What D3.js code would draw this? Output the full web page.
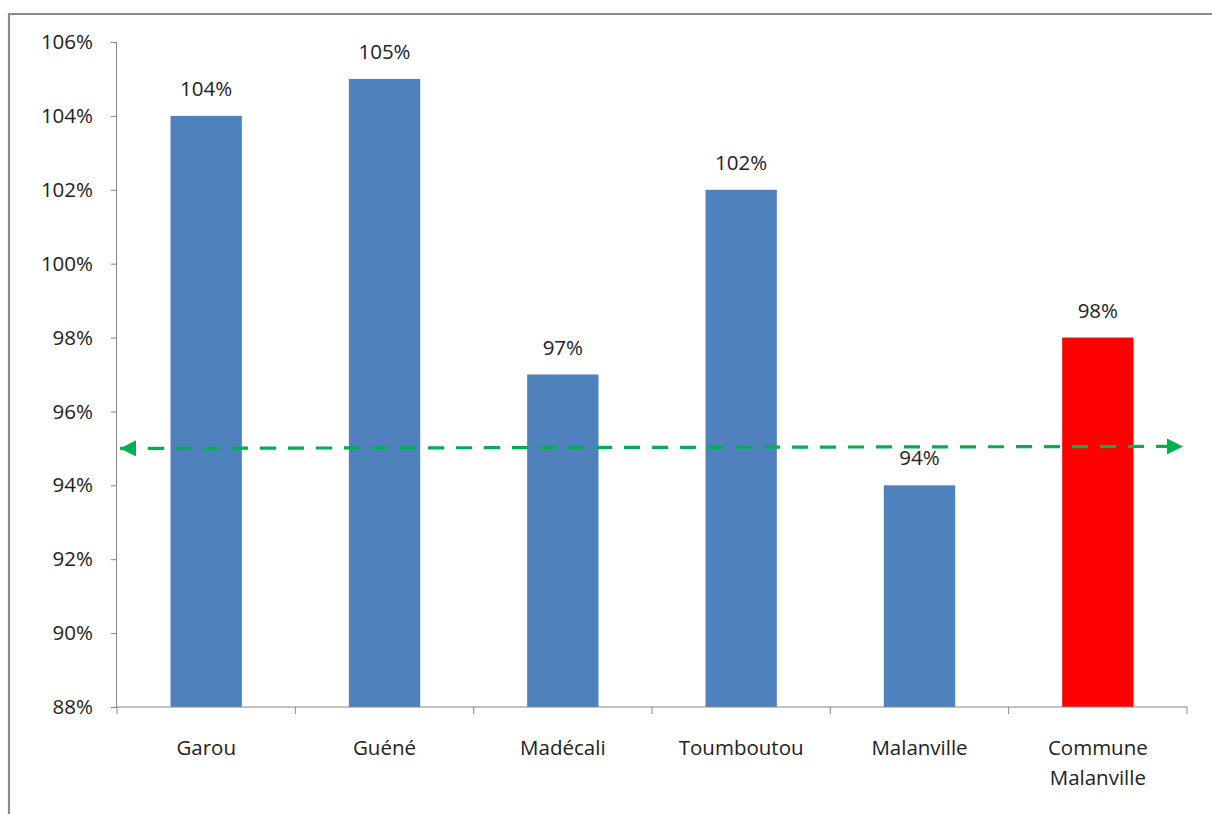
<!DOCTYPE html>
<html>
<head>
<meta charset="utf-8">
<script src="https://cdn.jsdelivr.net/npm/d3@7"></script>
<style>
  html, body { margin: 0; padding: 0; background: #fff; }
  svg { display: block; }
  text { font-family: "Open Sans", "Noto Sans", sans-serif; fill: #222; }
</style>
</head>
<body>
<svg id="chart" width="1212" height="814"></svg>
<script>
// Taux par arrondissement, commune en rouge
const categories = [["Garou"], ["Guéné"], ["Madécali"], ["Toumboutou"], ["Malanville"], ["Commune", "Malanville"]];
const values = [104, 105, 97, 102, 94, 98];
const barColors = ["#4F81BD", "#4F81BD", "#4F81BD", "#4F81BD", "#4F81BD", "#FF0000"];
const yTicks = [88, 90, 92, 94, 96, 98, 100, 102, 104, 106];
const targetLevel = [95];

const svg = d3.select("#chart");
const W = 1212, H = 814;
const m = { left: 117, right: 1187, top: 42, bottom: 707 };
const fontPx = "20.5px";

// Outer frame of the chart area
svg.append("path")
  .attr("d", `M9,${H + 2} V14 H${W + 2}`)
  .attr("fill", "none").attr("stroke", "#8a8a8a").attr("stroke-width", 2.2);

const x = d3.scaleBand().domain(d3.range(categories.length)).range([m.left, m.right]).paddingInner(0).paddingOuter(0);
const y = d3.scaleLinear().domain([88, 106]).range([m.bottom, m.top]);

const barW = x.bandwidth() * 0.4;

// Bars
svg.append("g").selectAll("rect").data(values).join("rect")
  .attr("x", (d, i) => x(i) + (x.bandwidth() - barW) / 2)
  .attr("y", d => y(d))
  .attr("width", barW)
  .attr("height", d => y(88) - y(d))
  .attr("fill", (d, i) => barColors[i]);

// Y axis
const yAxis = d3.axisLeft(y).tickValues(yTicks).tickSize(6).tickPadding(18).tickFormat(d => d + "%");
const gy = svg.append("g").attr("transform", `translate(${m.left},0)`).call(yAxis);
gy.select(".domain").attr("stroke", "#868686").attr("d", `M-0.5,${m.top}V${m.bottom}`);
gy.selectAll(".tick line").attr("stroke", "#868686");
gy.selectAll(".tick text").style("font-size", fontPx).style("font-family", "'Open Sans', sans-serif").attr("fill", "#222");

// X axis with ticks at category boundaries
const gx = svg.append("g").attr("transform", `translate(0,${m.bottom})`);
gx.append("line").attr("x1", m.left).attr("x2", m.right).attr("stroke", "#868686");
gx.selectAll("line.tk").data(d3.range(categories.length + 1)).join("line")
  .attr("class", "tk")
  .attr("x1", i => i < categories.length ? x(i) : m.right)
  .attr("x2", i => i < categories.length ? x(i) : m.right)
  .attr("y1", 0).attr("y2", 7).attr("stroke", "#868686");
gx.selectAll("text").data(categories).join("text")
  .attr("text-anchor", "middle")
  .style("font-size", fontPx)
  .attr("transform", (d, i) => `translate(${x(i) + x.bandwidth() / 2},48)`)
  .each(function(lines) {
    d3.select(this).selectAll("tspan").data(lines).join("tspan")
      .attr("x", 0).attr("dy", (l, j) => j === 0 ? 0 : 30).text(l => l);
  });

// Value labels
svg.append("g").selectAll("text").data(values).join("text")
  .attr("x", (d, i) => x(i) + x.bandwidth() / 2)
  .attr("y", d => y(d) - 20)
  .attr("text-anchor", "middle")
  .style("font-size", fontPx)
  .text(d => d + "%");

// Dashed target line with arrowheads at both ends
const defs = svg.append("defs");
defs.append("marker").attr("id", "arr")
  .attr("viewBox", "0 0 10 10").attr("refX", 10).attr("refY", 5)
  .attr("markerWidth", 5).attr("markerHeight", 5).attr("markerUnits", "strokeWidth")
  .attr("orient", "auto-start-reverse")
  .append("path").attr("d", "M0,0 L10,5 L0,10 Z").attr("fill", "#00B050");
svg.append("line")
  .attr("x1", 120).attr("x2", 1183)
  .attr("y1", y(targetLevel[0])).attr("y2", y(targetLevel[0]) - 2)
  .attr("stroke", "#00B050").attr("stroke-width", 3.2)
  .attr("stroke-dasharray", "16,12")
  .attr("marker-start", "url(#arr)")
  .attr("marker-end", "url(#arr)");
</script>
</body>
</html>
